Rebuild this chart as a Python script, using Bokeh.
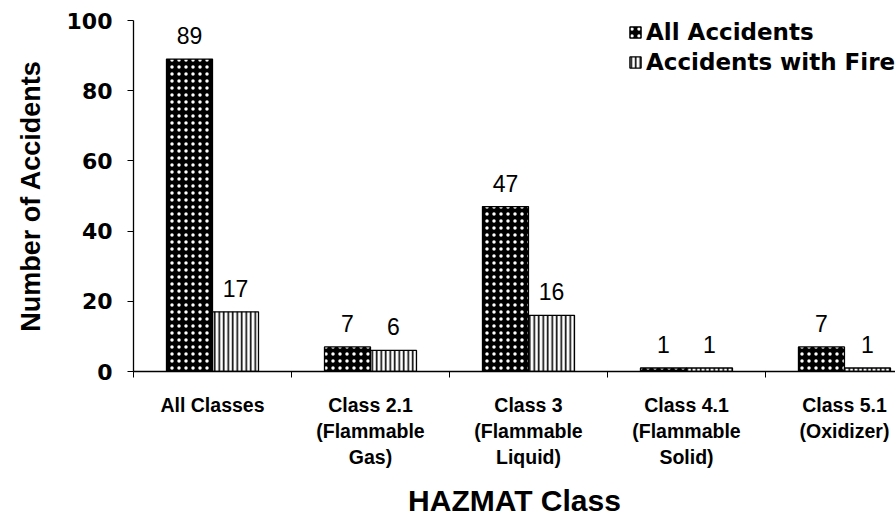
from bokeh.plotting import figure
from bokeh.models import (ColumnDataSource, Range1d, FixedTicker, LabelSet, Legend, LegendItem)
from bokeh.core.properties import value
from bokeh.transform import dodge
from bokeh.embed import file_html
from bokeh.resources import INLINE

categories = ["All Classes", "Class 2.1\n(Flammable\nGas)", "Class 3\n(Flammable\nLiquid)",
              "Class 4.1\n(Flammable\nSolid)", "Class 5.1\n(Oxidizer)"]
all_accidents = [89, 7, 47, 1, 7]
accidents_with_fire = [17, 6, 16, 1, 1]
y_ticks = [0, 20, 40, 60, 80, 100]

centers = [i + 0.5 for i in range(len(categories))]
bounds = [i for i in range(len(categories))]

src = ColumnDataSource(dict(
    x=centers,
    all=all_accidents,
    fire=accidents_with_fire,
    all_txt=[str(v) for v in all_accidents],
    fire_txt=[str(v) for v in accidents_with_fire],
))

W, H = 895, 521
p = figure(width=W, height=H, output_backend="svg", toolbar_location=None,
           x_range=Range1d(0, 4.823), y_range=Range1d(0, 100),
           min_border_left=133, min_border_top=20, min_border_right=0, min_border_bottom=150)
p.outline_line_color = None
p.xgrid.visible = False
p.ygrid.visible = False
p.background_fill_color = "white"
p.border_fill_color = "white"

bw = 0.291
off = 0.1456
r_all = p.vbar(x=dodge("x", -off), top="all", width=bw, source=src,
               fill_color="black", line_color="black", line_width=1.3,
               hatch_pattern="dot", hatch_color="white", hatch_scale=7, hatch_weight=5.5)
r_fire = p.vbar(x=dodge("x", off), top="fire", width=bw, source=src,
                fill_color="white", line_color="black", line_width=1.3,
                hatch_pattern="vertical_line", hatch_color="black", hatch_scale=4.5, hatch_weight=1.6)

for col, txt, sgn in (("all", "all_txt", -1), ("fire", "fire_txt", 1)):
    p.add_layout(LabelSet(x=dodge("x", sgn * off), y=col, text=txt, source=src,
                          text_align="center", text_baseline="alphabetic", y_offset=15,
                          text_font=value("Liberation Sans"), text_font_size=value("23px"),
                          text_color="black"))

# y axis
ya = p.yaxis[0]
ya.ticker = FixedTicker(ticks=y_ticks)
ya.minor_tick_line_color = None
ya.major_tick_in = 0
ya.major_tick_out = 6
ya.axis_line_color = "black"
ya.axis_line_width = 1.3
ya.major_tick_line_color = "black"
ya.major_label_text_font = "DejaVu Sans"
ya.major_label_text_font_style = "bold"
ya.major_label_text_font_size = "22px"
ya.major_label_text_color = "black"
ya.major_label_standoff = 15
ya.axis_label = "Number of Accidents"
ya.axis_label_text_font = "Liberation Sans"
ya.axis_label_text_font_style = "bold"
ya.axis_label_text_font_size = "27px"
ya.axis_label_text_color = "black"
ya.axis_label_standoff = 18

# x axis
xa = p.xaxis[0]
xa.ticker = FixedTicker(ticks=centers, minor_ticks=bounds)
xa.major_label_overrides = {c: lab for c, lab in zip(centers, categories)}
xa.major_tick_line_color = None
xa.major_tick_in = 0
xa.major_tick_out = 0
xa.minor_tick_line_color = "black"
xa.minor_tick_in = 0
xa.minor_tick_out = 6
xa.axis_line_color = "black"
xa.axis_line_width = 1.3
xa.major_label_text_font = "Liberation Sans"
xa.major_label_text_font_style = "bold"
xa.major_label_text_font_size = "19.5px"
xa.major_label_text_color = "black"
xa.major_label_text_line_height = 1.2
xa.major_label_standoff = 16
xa.axis_label = "HAZMAT Class"
xa.axis_label_text_font = "Liberation Sans"
xa.axis_label_text_font_style = "bold"
xa.axis_label_text_font_size = "30px"
xa.axis_label_text_color = "black"
xa.axis_label_standoff = 13

legend = Legend(items=[LegendItem(label="All Accidents", renderers=[r_all]),
                       LegendItem(label="Accidents with Fire", renderers=[r_fire])],
                location=(495, 296), padding=0, margin=0, spacing=4,
                glyph_width=14, glyph_height=14, label_standoff=4,
                label_text_font="DejaVu Sans", label_text_font_style="bold",
                label_text_font_size="23px", label_text_color="black",
                border_line_color=None, background_fill_alpha=0)
p.add_layout(legend)

open("out.html", "w").write(file_html(p, INLINE))
